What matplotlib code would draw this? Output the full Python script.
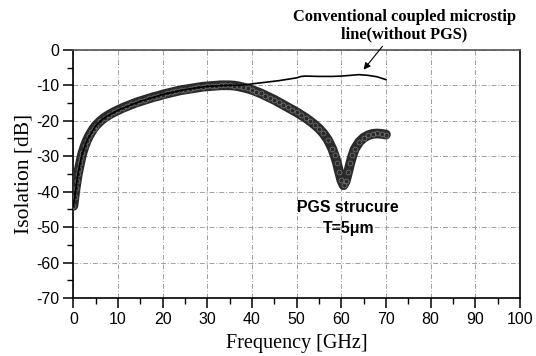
import matplotlib
matplotlib.use("Agg")
import matplotlib.pyplot as plt
from matplotlib.ticker import MultipleLocator

plt.rcParams['axes.unicode_minus'] = False

# PGS structure (T=5um) isolation
pgs_freq = [0, 0.25, 0.5, 0.75, 1, 1.25, 1.5, 1.75, 2, 2.5, 3, 3.5, 4, 4.5, 5, 6, 7, 8, 9, 10,
            11, 12, 13, 14, 15, 16, 17, 18, 19, 20, 21, 22, 23, 24, 25, 26, 27, 28, 29, 30,
            31, 32, 33, 34, 35, 36, 37, 38, 39, 40, 41, 42, 43, 44, 45, 46, 47, 48, 49, 50,
            51, 52, 53, 54, 55, 56, 57, 58, 58.5, 59, 59.5, 60, 60.5, 61, 61.5, 62, 62.5, 63,
            64, 65, 66, 67, 68, 69, 70]
pgs_iso = [-44, -41.5, -39, -37, -35, -33.5, -32, -30.5, -29.2, -27.2, -25.6, -24.3, -23.2, -22.2, -21.4,
           -20.1, -19.1, -18.3, -17.6, -17.0,
           -16.4, -15.9, -15.4, -14.9, -14.5, -14.1, -13.7, -13.3, -13.0, -12.6,
           -12.3, -12.0, -11.7, -11.4, -11.2, -11.0, -10.8, -10.6, -10.4, -10.3,
           -10.2, -10.1, -10.0, -10.0, -10.0, -10.1, -10.3, -10.6, -10.9, -11.3,
           -11.8, -12.3, -12.9, -13.5, -14.1, -14.8, -15.5, -16.2, -16.9, -17.6,
           -18.4, -19.2, -20.1, -21.1, -22.2, -23.6, -25.4, -28.0, -29.8, -31.8, -34.4, -36.8, -38.2,
           -37.0, -34.6, -32.0, -29.8, -28.0,
           -26.0, -24.8, -24.1, -23.7, -23.6, -23.7, -23.9]

# Conventional coupled microstrip line (without PGS)
conv_freq = [0, 1, 2, 3, 5, 7, 10, 15, 20, 25, 30, 35, 37, 38, 39, 40, 42, 44, 46, 48, 50,
             51, 52, 55, 58, 60, 62, 64, 66, 68, 70]
conv_iso = [-44, -35, -29.2, -25.6, -21.4, -19.1, -17.0, -14.5, -12.6, -11.2, -10.3, -10.0, -10.0,
            -9.9, -9.8, -9.6, -9.3, -9.0, -8.7, -8.3, -7.9, -7.5, -7.4, -7.5, -7.5, -7.4,
            -7.2, -7.0, -7.2, -7.6, -8.4]

x_ticks = [0, 10, 20, 30, 40, 50, 60, 70, 80, 90, 100]
y_ticks = [0, -10, -20, -30, -40, -50, -60, -70]

fig = plt.figure(figsize=(5.36, 3.56), dpi=100)
ax = fig.add_axes([0.137, 0.163, 0.833, 0.697])

# thick band of the PGS curve with hollow-circle texture
ax.plot(pgs_freq, pgs_iso, color='#2a2a2a', linewidth=7, solid_capstyle='round',
        solid_joinstyle='round', zorder=3)
ax.plot(pgs_freq, pgs_iso, linestyle='none', marker='o', markersize=3.5,
        markerfacecolor='none', markeredgecolor='#7a7a7a', markeredgewidth=0.5, zorder=3.5)
ax.plot(conv_freq, conv_iso, color='black', linewidth=1.2, zorder=4)

ax.set_xlim(0, 100)
ax.set_ylim(-70, 0)
ax.set_xticks(x_ticks)
ax.set_yticks(y_ticks)
ax.xaxis.set_minor_locator(MultipleLocator(5))
ax.yaxis.set_minor_locator(MultipleLocator(5))
ax.tick_params(which='major', direction='out', length=7, width=1.1, labelsize=11.5, pad=3)
ax.tick_params(which='minor', direction='out', length=4, width=1.0)
for lab in ax.get_xticklabels() + ax.get_yticklabels():
    lab.set_family('Liberation Sans')

ax.grid(True, which='major', color='#a0a0a0', linestyle=(0, (5, 2, 1, 2)), linewidth=0.7)
for s in ax.spines.values():
    s.set_linewidth(1.2)
    s.set_color('black')
ax.spines['top'].set_color('#555555')

ax.set_xlabel('Frequency [GHz]', family='Liberation Serif', fontsize=14.5, labelpad=5)
ax.set_ylabel('Isolation [dB]', family='Liberation Serif', fontsize=15.5, labelpad=2)

fig.text(0.754, 0.928, 'Conventional coupled microstip\nline(without PGS)', ha='center', va='center',
         family='Liberation Serif', fontweight='bold', fontsize=11.8, linespacing=1.1)
ax.annotate('', xy=(64.6, -6.2), xytext=(69.6, 1.6), annotation_clip=False,
            arrowprops=dict(arrowstyle='-|>', color='black', lw=0.8, mutation_scale=10))

ax.text(61.4, -44.6, 'PGS strucure', ha='center', va='center', family='Liberation Sans',
        fontweight='bold', fontsize=11.4)
ax.text(61.6, -50.3, 'T=5\u03bcm', ha='center', va='center', family='Liberation Sans',
        fontweight='bold', fontsize=11.4)

fig.savefig('out.png', dpi=100)
